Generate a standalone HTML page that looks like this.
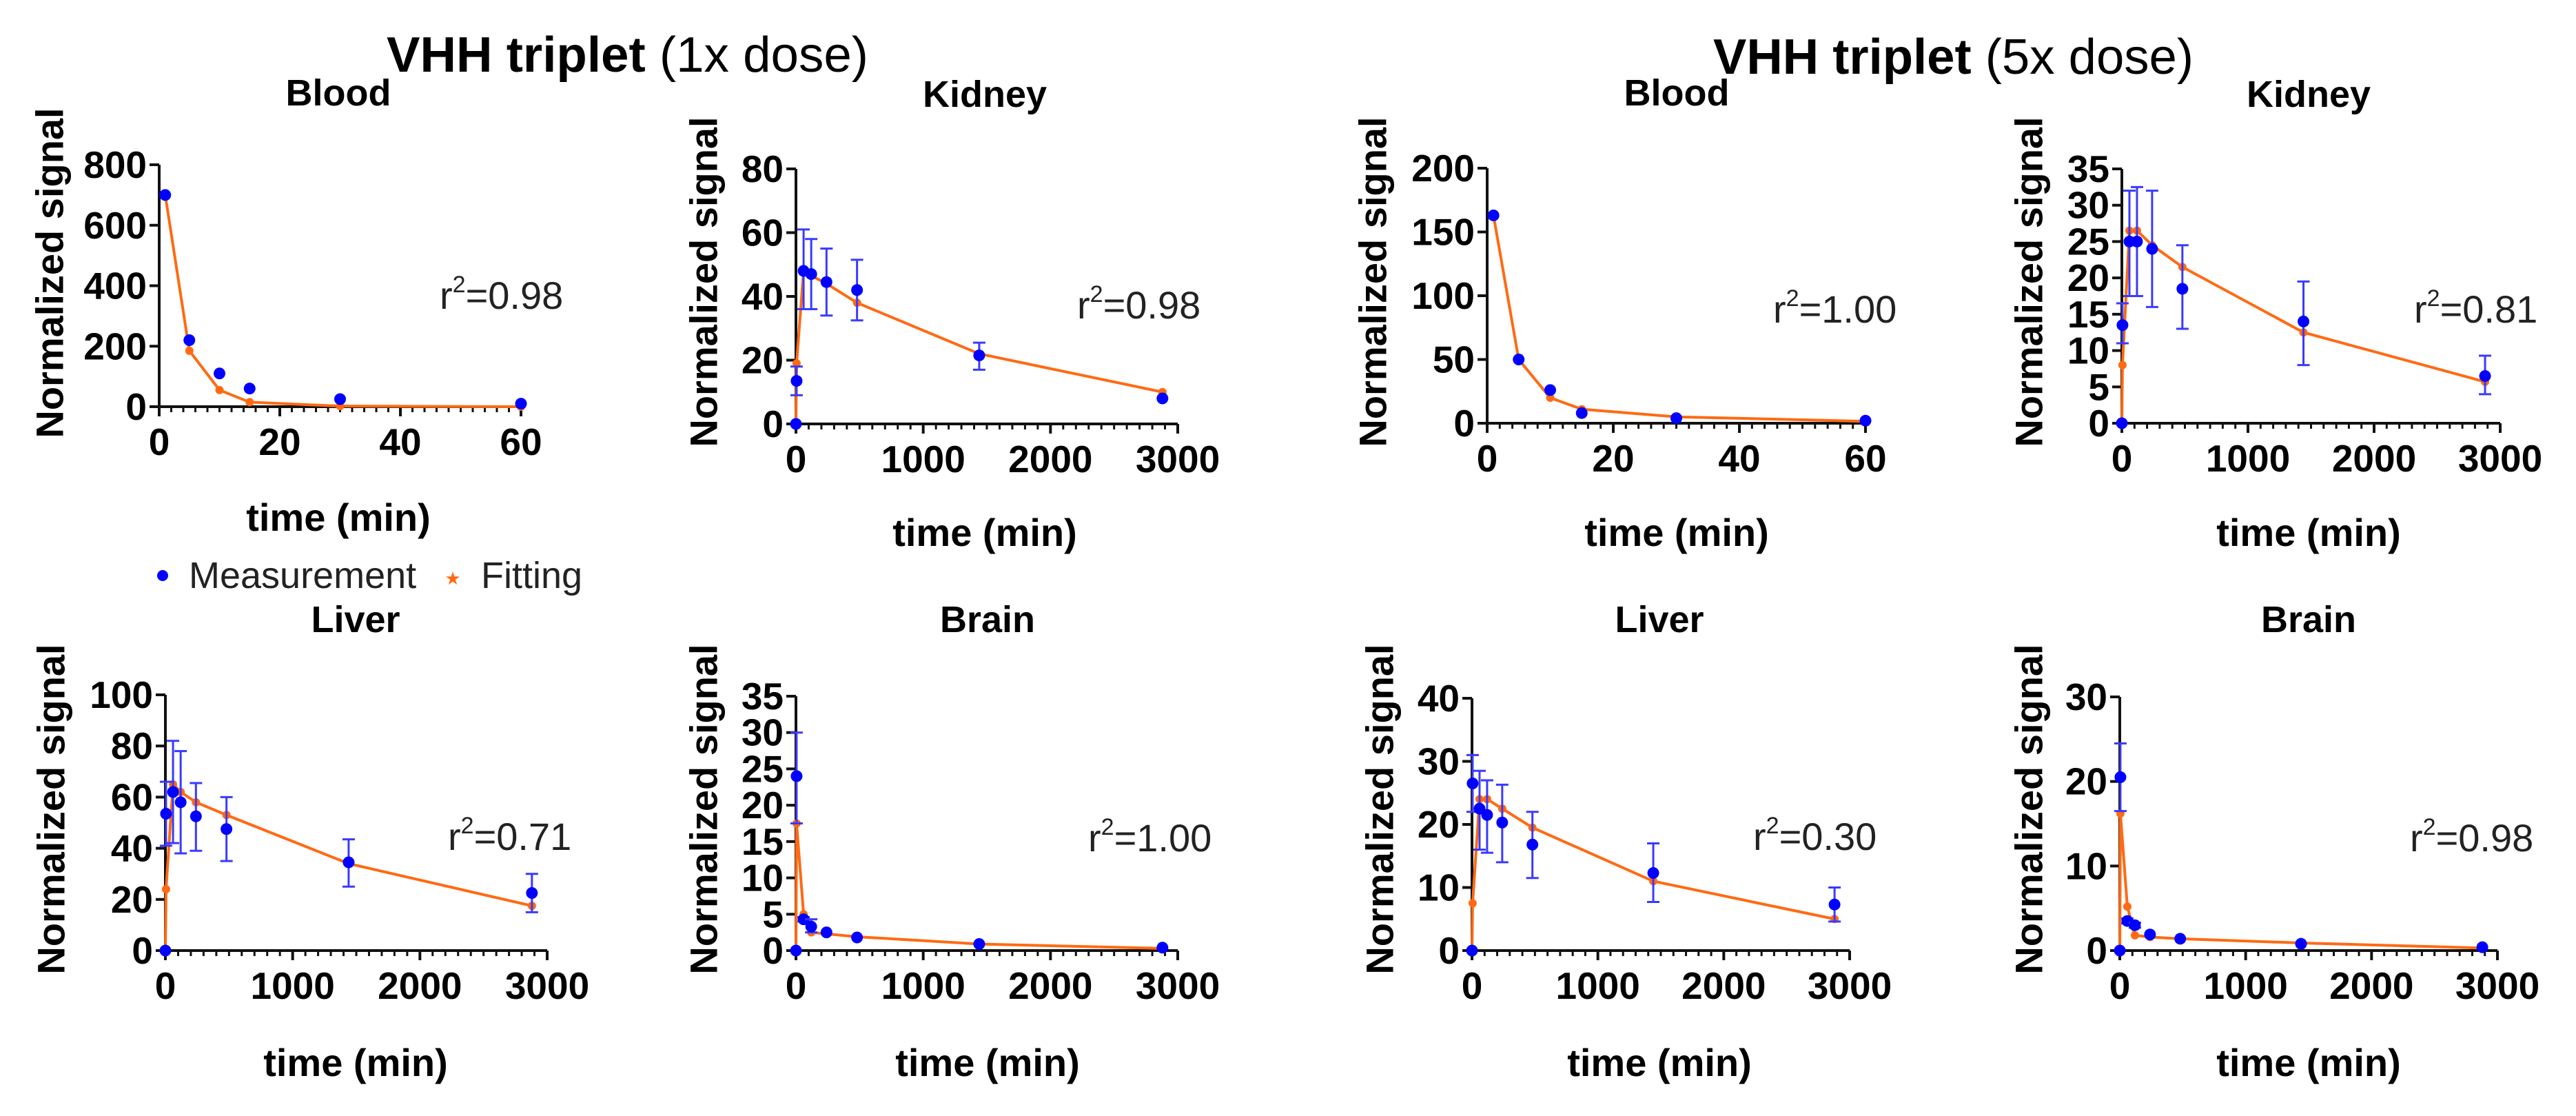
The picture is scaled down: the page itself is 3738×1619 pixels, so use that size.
<!DOCTYPE html>
<html><head><meta charset="utf-8"><style>
html,body{margin:0;padding:0;background:#fff;}
svg{display:block;font-family:"Liberation Sans",Arial,sans-serif;}
</style></head><body>
<svg id="fig" width="3738" height="1619" viewBox="0 0 3738 1619" xmlns="http://www.w3.org/2000/svg">
<rect width="3738" height="1619" fill="#fff"/>
<text x="561" y="104" font-size="72" textLength="699" lengthAdjust="spacingAndGlyphs"><tspan font-weight="bold">VHH triplet</tspan> (1x dose)</text>
<text x="2486" y="107" font-size="72" textLength="697" lengthAdjust="spacingAndGlyphs"><tspan font-weight="bold">VHH triplet</tspan> (5x dose)</text>
<g>
<circle cx="236" cy="835" r="8" fill="#0000ff"/>
<text x="274" y="853" font-size="54" fill="#222">Measurement</text>
<text x="657" y="848" font-size="26" fill="#ff6a13" text-anchor="middle">★</text>
<text x="698" y="853" font-size="54" fill="#222">Fitting</text>
</g>
<g id="plots"></g>
</svg>
<script>
// ---- data ----
const blood1xTimes = [1, 5, 10, 15, 30, 60];
const blood1xMeas = [700, 220, 110, 60, 25, 10];
const blood1xFit = [700, 185, 55, 15, 2, 0];
const tissueTimes = [0, 5, 60, 120, 240, 480, 1440, 2880];
const kidney1xMeas = [0, 13.5, 48, 47, 44.5, 42, 21.5, 8];
const kidney1xLo = [0, 9, 36, 36, 34, 32.5, 17, 8];
const kidney1xHi = [0, 18, 61, 58, 55, 51.5, 25.5, 8];
const kidney1xFit = [0, 19, 48, 46.5, 44, 38, 22, 10];
const blood5xTimes = [1, 5, 10, 15, 30, 60];
const blood5xMeas = [163, 50, 26, 8, 4, 2];
const blood5xFit = [163, 50, 20, 11, 5, 1.5];
const kidney5xMeas = [0, 13.5, 25, 25, 24, 18.5, 14, 6.5];
const kidney5xLo = [0, 11, 17.5, 17.5, 16, 13, 8, 4];
const kidney5xHi = [0, 16.5, 32, 32.5, 32, 24.5, 19.5, 9.3];
const kidney5xFit = [0, 8, 26.5, 26.5, 24.5, 21.5, 12.5, 5.7];
const liver1xMeas = [0, 53.5, 62, 58, 52.5, 47.5, 34.5, 22.5];
const liver1xLo = [0, 41, 42, 38, 39, 35, 25, 15];
const liver1xHi = [0, 66, 82, 78, 65.5, 60, 43.5, 30];
const liver1xFit = [0, 24, 65, 62, 58, 53, 34, 17.5];
const brain1xMeas = [0, 24, 4.3, 3.3, 2.5, 1.8, 0.9, 0.4];
const brain1xLo = [0, 17.5, 4, 2.5, 2.3, 1.6, 0.8, 0.3];
const brain1xHi = [0, 30, 4.6, 4.3, 2.8, 2, 1, 0.5];
const brain1xFit = [0, 17.5, 5, 2.5, 2.3, 1.9, 0.9, 0.3];
const liver5xMeas = [0, 26.5, 22.5, 21.5, 20.3, 16.8, 12.3, 7.3];
const liver5xLo = [0, 22, 16, 15.5, 14, 11.5, 7.7, 4.6];
const liver5xHi = [0, 31, 28.5, 27, 26.3, 22, 17, 10];
const liver5xFit = [0, 7.5, 24, 24, 22.5, 19.5, 11, 5];
const brain5xMeas = [0, 20.5, 3.5, 3, 1.9, 1.4, 0.8, 0.4];
const brain5xLo = [0, 16.5, 3.2, 2.7, 1.7, 1.3, 0.7, 0.3];
const brain5xHi = [0, 24.5, 3.8, 3.3, 2.1, 1.5, 0.9, 0.5];
const brain5xFit = [0, 16.2, 5.2, 1.8, 1.6, 1.4, 0.9, 0.3];
const r2Labels = ["0.98", "0.98", "1.00", "0.81", "0.71", "1.00", "0.30", "0.98"];
const ticks800 = [0, 200, 400, 600, 800];
const ticks80 = [0, 20, 40, 60, 80];
const ticks200 = [0, 50, 100, 150, 200];
const ticks35 = [0, 5, 10, 15, 20, 25, 30, 35];
const ticks100 = [0, 20, 40, 60, 80, 100];
const ticks40 = [0, 10, 20, 30, 40];
const ticks30 = [0, 10, 20, 30];
const xTicks60 = [0, 20, 40, 60];
const xTicks3000 = [0, 1000, 2000, 3000];

// ---- layout (pixel positions, not data) ----
const panels = [
 {id:'blood-1x', name:'Blood', ax:231, ax2:756, y0:590, yt:239, xmax:60, minor:2, ymax:800, yticks:ticks800, xticks:xTicks60, t:blood1xTimes, m:blood1xMeas, f:blood1xFit, tcx:491, tb:153, r2x:638, r2b:448, ylx:72, yly:396, xb:770, r2:0},
 {id:'kidney-1x', name:'Kidney', ax:1155, ax2:1709, y0:615, yt:245, xmax:3000, minor:100, ymax:80, yticks:ticks80, xticks:xTicks3000, t:tissueTimes, m:kidney1xMeas, lo:kidney1xLo, hi:kidney1xHi, f:kidney1xFit, tcx:1429, tb:155, r2x:1563, r2b:462, ylx:1021, yly:409, xb:792, r2:1},
 {id:'blood-5x', name:'Blood', ax:2158, ax2:2707, y0:614, yt:244, xmax:60, minor:2, ymax:200, yticks:ticks200, xticks:xTicks60, t:blood5xTimes, m:blood5xMeas, f:blood5xFit, tcx:2433, tb:153, r2x:2573, r2b:468, ylx:1992, yly:409, xb:792, r2:2},
 {id:'kidney-5x', name:'Kidney', ax:3079, ax2:3628, y0:614, yt:245, xmax:3000, minor:100, ymax:35, yticks:ticks35, xticks:xTicks3000, t:tissueTimes, m:kidney5xMeas, lo:kidney5xLo, hi:kidney5xHi, f:kidney5xFit, tcx:3350, tb:155, r2x:3503, r2b:468, ylx:2944, yly:409, xb:792, r2:3},
 {id:'liver-1x', name:'Liver', ax:240, ax2:794, y0:1379, yt:1008, xmax:3000, minor:100, ymax:100, yticks:ticks100, xticks:xTicks3000, t:tissueTimes, m:liver1xMeas, lo:liver1xLo, hi:liver1xHi, f:liver1xFit, tcx:516, tb:917, r2x:650, r2b:1233, ylx:74, yly:1174, xb:1561, r2:4},
 {id:'brain-1x', name:'Brain', ax:1155, ax2:1709, y0:1379, yt:1010, xmax:3000, minor:100, ymax:35, yticks:ticks35, xticks:xTicks3000, t:tissueTimes, m:brain1xMeas, lo:brain1xLo, hi:brain1xHi, f:brain1xFit, tcx:1433, tb:917, r2x:1579, r2b:1235, ylx:1021, yly:1174, xb:1561, r2:5},
 {id:'liver-5x', name:'Liver', ax:2136, ax2:2684, y0:1379, yt:1013, xmax:3000, minor:100, ymax:40, yticks:ticks40, xticks:xTicks3000, t:tissueTimes, m:liver5xMeas, lo:liver5xLo, hi:liver5xHi, f:liver5xFit, tcx:2408, tb:917, r2x:2544, r2b:1233, ylx:2002, yly:1174, xb:1561, r2:6},
 {id:'brain-5x', name:'Brain', ax:3076, ax2:3624, y0:1379, yt:1011, xmax:3000, minor:100, ymax:30, yticks:ticks30, xticks:xTicks3000, t:tissueTimes, m:brain5xMeas, lo:brain5xLo, hi:brain5xHi, f:brain5xFit, tcx:3350, tb:917, r2x:3497, r2b:1235, ylx:2944, yly:1174, xb:1561, r2:7}
];
const NS = 'http://www.w3.org/2000/svg';
const root = document.getElementById('plots');
function mk(tag, attrs, parent, text){
  const e = document.createElementNS(NS, tag);
  for (const k in attrs) e.setAttribute(k, attrs[k]);
  if (text !== undefined) e.textContent = text;
  parent.appendChild(e); return e;
}
panels.forEach(p => {
  const g = mk('g', {}, root);
  
  
  const xs = v => p.ax + (v / p.xmax) * (p.ax2 - p.ax);
  const ys = v => p.y0 - (v / p.ymax) * (p.y0 - p.yt);
  const ttl = mk('text', {x:p.tcx, y:p.tb, 'font-size':54, 'font-weight':'bold', 'text-anchor':'middle'}, g, p.name);
  
  
  const yl = mk('text', {transform:`translate(${p.ylx},${p.yly}) rotate(-90)`, 'font-size':56, 'font-weight':'bold', 'text-anchor':'middle', 'dominant-baseline':'central'}, g, 'Normalized signal');
  
  
  const xl = mk('text', {x:p.tcx, y:p.xb, 'font-size':56, 'font-weight':'bold', 'text-anchor':'middle'}, g, 'time (min)');
  
  
  // axes
  const axis = mk('path', {d:`M${p.ax},${p.yt}V${p.y0}H${p.ax2}`, stroke:'#111', 'stroke-width':4, fill:'none'}, g);
  
  
  p.yticks.forEach(v => {
    mk('line', {x1:p.ax-14, x2:p.ax, y1:ys(v), y2:ys(v), stroke:'#111', 'stroke-width':4}, g);
    const tl = mk('text', {x:p.ax-18, y:ys(v), 'font-size':55, 'font-weight':'bold', 'text-anchor':'end', 'dominant-baseline':'central'}, g, String(v));
    
    
  });
  for (let v = 0; v <= p.xmax + 1e-9; v += p.minor) {
    const major = p.xticks.indexOf(Math.round(v)) >= 0;
    mk('line', {x1:xs(v), x2:xs(v), y1:p.y0, y2:p.y0 + (major ? 14 : 8), stroke:'#111', 'stroke-width':major ? 4 : 3}, g);
  }
  p.xticks.forEach(v => {
    const tl = mk('text', {x:xs(v), y:p.y0+70, 'font-size':55, 'font-weight':'bold', 'text-anchor':'middle'}, g, String(v));
    
    
  });
  // fit line
  const fl = mk('polyline', {points:p.t.map((t,i)=>xs(t)+','+ys(p.f[i])).join(' '), stroke:'#ff6a13', 'stroke-width':4, fill:'none'}, g);
  
  
  p.t.forEach((t,i) => {
    const fm = mk('circle', {cx:xs(t), cy:ys(p.f[i]), r:6, fill:'#ff6a13'}, g);
    
    
  });
  // error bars + measurement
  p.t.forEach((t,i) => {
    if (p.lo && p.hi[i] - p.lo[i] > 0.5 * p.ymax / 35) {
      const x = xs(t), a = ys(p.lo[i]), b = ys(p.hi[i]);
      const eb = mk('path', {d:`M${x},${a}V${b}M${x-9},${a}H${x+9}M${x-9},${b}H${x+9}`, stroke:'#3a3aff', 'stroke-width':3, fill:'none'}, g);
      
      
    }
    const c = mk('circle', {cx:xs(t), cy:ys(p.m[i]), r:8.5, fill:'#0000ff'}, g);
    
    
  });
  const r = mk('text', {x:p.r2x, y:p.r2b, 'font-size':56, fill:'#222'}, g);
  
  
  mk('tspan', {}, r, 'r');
  mk('tspan', {'font-size':34, dy:-24}, r, '2');
  mk('tspan', {dy:24}, r, '=' + r2Labels[p.r2]);
});
</script>
</body></html>
